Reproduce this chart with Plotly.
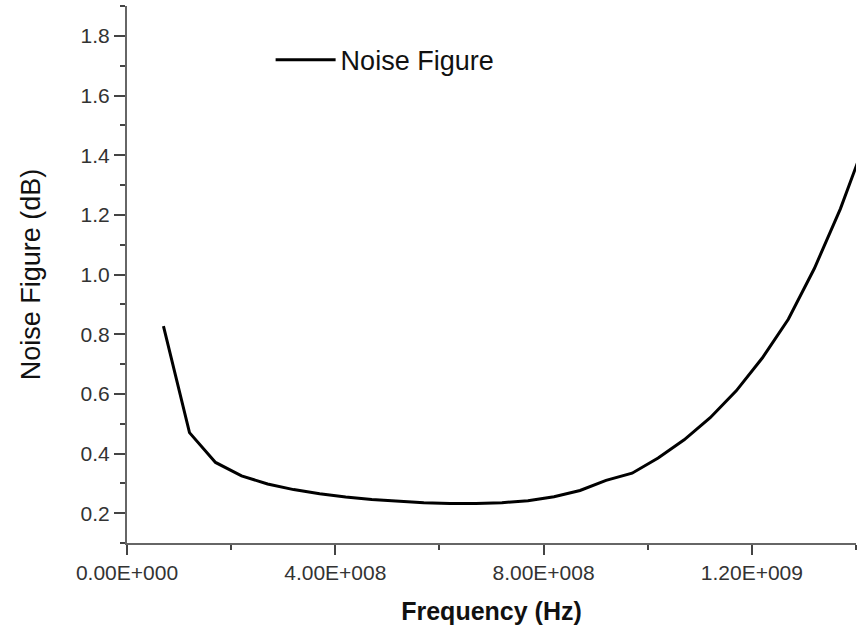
import plotly.graph_objects as go

freq_hz = [7e7, 1.2e8, 1.7e8, 2.2e8, 2.7e8, 3.2e8, 3.7e8, 4.2e8, 4.7e8, 5.2e8,
           5.7e8, 6.2e8, 6.7e8, 7.2e8, 7.7e8, 8.2e8, 8.7e8, 9.2e8, 9.7e8, 1.02e9,
           1.07e9, 1.12e9, 1.17e9, 1.22e9, 1.27e9, 1.32e9, 1.37e9, 1.42e9]
noise_figure_db = [0.827, 0.47, 0.37, 0.325, 0.298, 0.279, 0.265, 0.254, 0.246, 0.240,
                   0.235, 0.232, 0.232, 0.235, 0.242, 0.255, 0.276, 0.31, 0.334, 0.385,
                   0.446, 0.52, 0.61, 0.72, 0.85, 1.02, 1.22, 1.455]

x_tickvals = [0, 4e8, 8e8, 1.2e9]
x_ticktext = ["0.00E+000", "4.00E+008", "8.00E+008", "1.20E+009"]

FONT = "Liberation Sans, Arial, sans-serif"

fig = go.Figure()
fig.add_trace(go.Scatter(x=freq_hz, y=noise_figure_db, mode="lines",
                         name="Noise Figure",
                         line=dict(color="black", width=3)))

fig.update_layout(
    width=860, height=629,
    margin=dict(l=127, r=4, t=6, b=86),
    paper_bgcolor="white", plot_bgcolor="white",
    font=dict(family=FONT, color="#222"),
    showlegend=True,
    legend=dict(x=0.197, y=0.899, xanchor="left", yanchor="middle", itemwidth=60,
                bgcolor="rgba(0,0,0,0)", font=dict(size=27, color="#111")),
)
fig.update_xaxes(
    range=[0, 1.4e9], showgrid=False, zeroline=False,
    showline=True, linecolor="#666", linewidth=2,
    tickmode="array", tickvals=x_tickvals, ticktext=x_ticktext,
    ticks="outside", ticklen=10, tickwidth=2, tickcolor="#444",
    tickfont=dict(size=21, color="#333"),
    minor=dict(ticks="outside", ticklen=5, tickwidth=2, tickcolor="#444", dtick=2e8, tick0=0),
    title=dict(text="<b>Frequency (Hz)</b>", font=dict(size=25, color="#111"), standoff=19),
)
fig.update_yaxes(
    range=[0.1, 1.9], showgrid=False, zeroline=False,
    showline=True, linecolor="#666", linewidth=2,
    tick0=0, dtick=0.2, tickformat=".1f",
    ticks="outside", ticklen=11, tickwidth=2, tickcolor="#444",
    tickfont=dict(size=21, color="#333"),
    minor=dict(ticks="outside", ticklen=5, tickwidth=2, tickcolor="#444", dtick=0.1, tick0=0),
    title=dict(text="Noise Figure (dB)", font=dict(size=27, color="#111"), standoff=32),
)

fig.write_html("out.html")
